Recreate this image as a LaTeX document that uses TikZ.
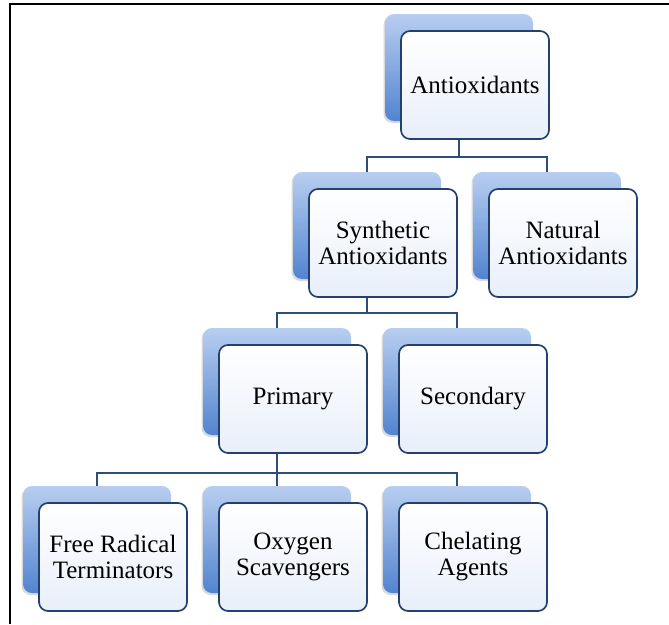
\documentclass[tikz,border=0pt]{standalone}
\usepackage{fontspec}
\setmainfont{Liberation Serif}
\usetikzlibrary{shadows}
\definecolor{linkblue}{RGB}{47,77,122}
\definecolor{boxedge}{RGB}{38,64,110}
\definecolor{backtop}{RGB}{184,206,240}
\definecolor{backbot}{RGB}{82,132,208}
\definecolor{frontbot}{RGB}{232,239,250}
\tikzset{
  backbox/.style={rectangle, rounded corners=9pt, inner sep=0pt,
    minimum width=148pt, minimum height=107pt,
    top color=backtop, bottom color=backbot,
    drop shadow={shadow xshift=-1.5pt, shadow yshift=-2pt, opacity=0.25, fill=black!60}},
  frontbox/.style={rectangle, rounded corners=9pt, draw=boxedge, line width=1.7pt,
    inner sep=0pt, minimum width=148pt, minimum height=108pt,
    top color=white, bottom color=frontbot, align=center,
    font=\fontsize{25}{26}\selectfont, xshift=16pt, yshift=-17.5pt},
  link/.style={draw=linkblue, line width=1.9pt}
}
\begin{document}
\begin{tikzpicture}[x=1pt,y=-1pt]
        \useasboundingbox (0,0) rectangle (669,624);
        % frame
        \draw[line width=2.5pt] (10,624) -- (10,4) -- (669,4);
        % back boxes
        \node[backbox] (anti)  at (459,67.5) {};
        \node[backbox] (synth) at (367,225.5) {};
        \node[backbox] (nat)   at (547,225.5) {};
        \node[backbox] (prim)  at (277,381.5) {};
        \node[backbox] (sec)   at (457,381.5) {};
        \node[backbox] (free)  at (97,539.5) {};
        \node[backbox] (oxy)   at (277,539.5) {};
        \node[backbox] (chel)  at (457,539.5) {};
        % buses
        \coordinate (bus1) at (0,157);
        \coordinate (bus2) at (0,313);
        \coordinate (bus3) at (0,473);
        \draw[link] (anti.south) -- (anti.south |- bus1) -| (synth.north);
        \draw[link] (anti.south |- bus1) -| (nat.north);
        \draw[link] (synth.south) -- (synth.south |- bus2) -| (prim.north);
        \draw[link] (synth.south |- bus2) -| (sec.north);
        \draw[link] (prim.south) -- (prim.south |- bus3) -| (free.north);
        \draw[link] (prim.south |- bus3) -| (oxy.north);
        \draw[link] (prim.south |- bus3) -| (chel.north);
        % front boxes
        \node[frontbox] (antiF)  at (anti)  {Antioxidants};
        \node[frontbox] (synthF) at (synth) {Synthetic\\Antioxidants};
        \node[frontbox] (natF)   at (nat)   {Natural\\Antioxidants};
        \node[frontbox] (primF)  at (prim)  {Primary};
        \node[frontbox] (secF)   at (sec)   {Secondary};
        \node[frontbox] (freeF)  at (free)  {Free Radical\\Terminators};
        \node[frontbox] (oxyF)   at (oxy)   {Oxygen\\Scavengers};
        \node[frontbox] (chelF)  at (chel)  {Chelating\\Agents};
\end{tikzpicture}
\end{document}
